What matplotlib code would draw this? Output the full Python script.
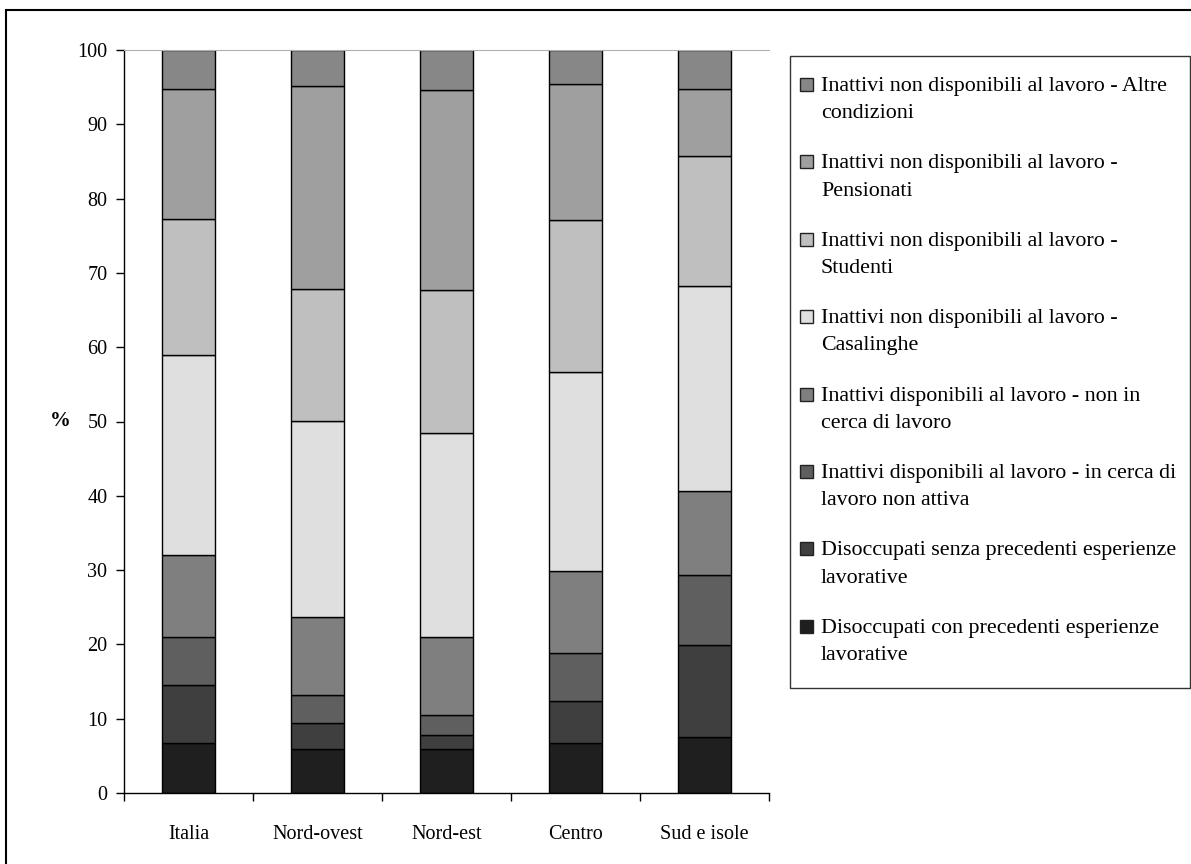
import matplotlib.pyplot as plt
import numpy as np
from matplotlib.patches import Rectangle

plt.rcParams['font.family'] = ['Liberation Serif', 'DejaVu Serif']

regions = ['Italia', 'Nord-ovest', 'Nord-est', 'Centro', 'Sud e isole']

# shares (%) per region, from bottom of the stack to the top
disocc_con = [6.7, 5.9, 5.9, 6.7, 7.5]
disocc_senza = [7.8, 3.5, 1.9, 5.7, 12.4]
inatt_in_cerca = [6.5, 3.8, 2.7, 6.5, 9.5]
inatt_non_cerca = [11.0, 10.5, 10.5, 11.0, 11.3]
casalinghe = [27.0, 26.4, 27.5, 26.7, 27.5]
studenti = [18.3, 17.8, 19.2, 20.5, 17.5]
pensionati = [17.5, 27.2, 26.9, 18.3, 9.1]
altre = [5.2, 4.9, 5.4, 4.6, 5.2]

series = [disocc_con, disocc_senza, inatt_in_cerca, inatt_non_cerca,
          casalinghe, studenti, pensionati, altre]
labels = ['Disoccupati con precedenti esperienze\nlavorative',
          'Disoccupati senza precedenti esperienze\nlavorative',
          'Inattivi disponibili al lavoro - in cerca di\nlavoro non attiva',
          'Inattivi disponibili al lavoro - non in\ncerca di lavoro',
          'Inattivi non disponibili al lavoro -\nCasalinghe',
          'Inattivi non disponibili al lavoro -\nStudenti',
          'Inattivi non disponibili al lavoro -\nPensionati',
          'Inattivi non disponibili al lavoro - Altre\ncondizioni']
colors = ['#1f1f1f', '#3f3f3f', '#5f5f5f', '#7f7f7f',
          '#dfdfdf', '#bfbfbf', '#9f9f9f', '#878787']

W, H = 1191, 864
fig = plt.figure(figsize=(W / 100, H / 100), dpi=100)
ax = fig.add_axes([124 / W, 1 - 793 / H, 645 / W, 743 / H])

x = np.arange(len(regions))
bottom = np.zeros(len(regions))
for vals, col in zip(series, colors):
    ax.bar(x, vals, width=0.41, bottom=bottom, color=col,
           edgecolor='black', linewidth=1)
    bottom += np.array(vals)

ax.set_xlim(-0.5, len(regions) - 0.5)
ax.set_ylim(0, 100)
ax.set_yticks(np.arange(0, 101, 10))
ax.tick_params(axis='y', labelsize=14.5, length=6, width=1, pad=6, direction='out')
ax.set_xticks(x)
ax.set_xticklabels(regions)
ax.tick_params(axis='x', which='major', length=0, labelsize=14.5, pad=23)
ax.set_xticks(np.arange(-0.5, len(regions), 1), minor=True)
ax.tick_params(axis='x', which='minor', length=6, width=1, direction='out')

ax.spines['right'].set_visible(False)
ax.spines['top'].set_color('#b0b0b0')
ax.spines['left'].set_linewidth(1)
ax.spines['bottom'].set_linewidth(1)

ax.set_ylabel('%', rotation=0, fontsize=15, fontweight='bold', va='center')
ax.yaxis.set_label_coords(-0.099, 0.5)

# legend box on the right, top entry first
lx0, lx1, ly0, ly1 = 790, 1190, 56, 688
fig.patches.append(Rectangle((lx0 / W, 1 - ly1 / H), (lx1 - lx0) / W, (ly1 - ly0) / H,
                             transform=fig.transFigure, fill=False,
                             edgecolor='#333333', linewidth=1))
step = 77.4
for i, (lab, col) in enumerate(zip(labels[::-1], colors[::-1])):
    base = 92 + step * i
    fig.patches.append(Rectangle((800 / W, 1 - (base - 1) / H), 13 / W, 13 / H,
                                 transform=fig.transFigure, facecolor=col,
                                 edgecolor='#222222', linewidth=1))
    fig.text(821 / W, 1 - (base - 15) / H, lab, fontsize=15.8, va='top', ha='left',
             linespacing=1.58)

# outer frame of the chart area
fig.patches.append(Rectangle((6 / W, -0.05), 1.1, 1 - 10 / H + 0.05,
                             transform=fig.transFigure, fill=False,
                             edgecolor='black', linewidth=1.5))

fig.savefig('out.png', dpi=100)
